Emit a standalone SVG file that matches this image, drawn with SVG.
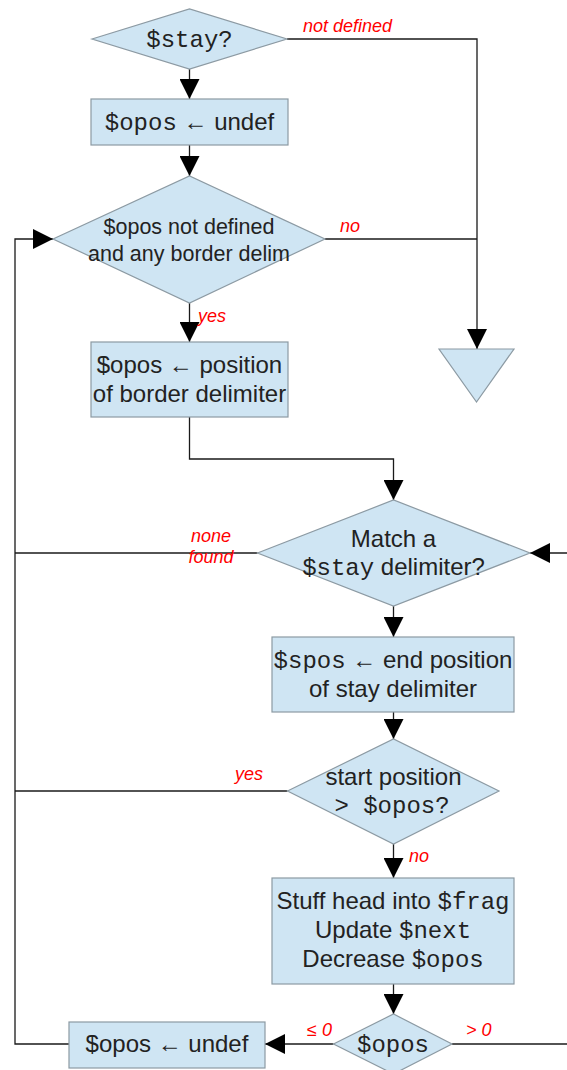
<svg xmlns="http://www.w3.org/2000/svg" width="567" height="1070" viewBox="0 0 567 1070">
<style>
.shape{fill:#cfe5f3;stroke:#8c9aa3;stroke-width:1.2}
.conn{fill:none;stroke:#1a1a1a;stroke-width:1.3}
.t{font-family:"Liberation Sans",Arial,sans-serif;font-size:24px;fill:#222;text-anchor:middle}
.t2{font-size:21.5px}
.m{font-family:"Liberation Mono","Courier New",monospace}
.lbl{font-family:"Liberation Sans",Arial,sans-serif;font-size:18px;font-style:italic;fill:#ff0000}
</style>
<defs>
<marker id="ah" viewBox="0 0 20 20" refX="20" refY="10" markerWidth="20" markerHeight="20" markerUnits="userSpaceOnUse" orient="auto">
<path d="M0,0 L20,10 L0,20 z" fill="#000"/>
</marker>
</defs>
<g id="connectors">
<path class="conn" d="M189.5,69 V99" marker-end="url(#ah)"/>
<path class="conn" d="M189.5,145 V176" marker-end="url(#ah)"/>
<path class="conn" d="M287,39 H477 V349" marker-end="url(#ah)"/>
<path class="conn" d="M325,239 H477"/>
<path class="conn" d="M189.5,303 V342" marker-end="url(#ah)"/>
<path class="conn" d="M189.5,417 V459 H393.5 V500" marker-end="url(#ah)"/>
<path class="conn" d="M567,553 H530" marker-end="url(#ah)"/>
<path class="conn" d="M257.5,553 H15"/>
<path class="conn" d="M393.5,606 V637" marker-end="url(#ah)"/>
<path class="conn" d="M393.5,712 V739" marker-end="url(#ah)"/>
<path class="conn" d="M287.5,791 H15"/>
<path class="conn" d="M393.5,844 V878" marker-end="url(#ah)"/>
<path class="conn" d="M393.5,984 V1014" marker-end="url(#ah)"/>
<path class="conn" d="M333.5,1044 H265" marker-end="url(#ah)"/>
<path class="conn" d="M452,1044 H567"/>
<path class="conn" d="M69,1044 H15 V239 H53" marker-end="url(#ah)"/>
<text class="lbl" x="303" y="32">not defined</text>
<text class="lbl" x="340" y="232">no</text>
<text class="lbl" x="198" y="322">yes</text>
<text class="lbl" x="211" y="542" text-anchor="middle">none</text>
<text class="lbl" x="211" y="563" text-anchor="middle">found</text>
<text class="lbl" x="235" y="780">yes</text>
<text class="lbl" x="409" y="862">no</text>
<text class="lbl" x="307" y="1036">≤ 0</text>
<text class="lbl" x="466" y="1036">&gt; 0</text>
</g>
<g id="stay-check">
<polygon class="shape" points="92,39 189.5,9 287,39 189.5,69"/>
<text class="t m" x="189.5" y="47">$stay?</text>
</g>
<g id="opos-undef-1">
<rect class="shape" x="91" y="99" width="197" height="46"/>
<text class="t" x="189.5" y="130"><tspan class="m">$opos</tspan> ← undef</text>
</g>
<g id="border-check">
<polygon class="shape" points="53,239 189.5,176 325,239 189.5,303"/>
<text class="t t2" x="189" y="234">$opos not defined</text>
<text class="t t2" x="189" y="261">and any border delim</text>
</g>
<g id="end-node">
<polygon class="shape" points="439,349 514,349 476.5,402"/>
</g>
<g id="opos-border">
<rect class="shape" x="91" y="342" width="197" height="75"/>
<text class="t" x="189.5" y="373">$opos ← position</text>
<text class="t" x="189.5" y="402">of border delimiter</text>
</g>
<g id="match-stay">
<polygon class="shape" points="257.5,553 393.5,500 530,553 393.5,606"/>
<text class="t" x="393.5" y="547">Match a</text>
<text class="t" x="393.5" y="575"><tspan class="m">$stay</tspan> delimiter?</text>
</g>
<g id="spos-end">
<rect class="shape" x="272" y="637" width="242" height="75"/>
<text class="t" x="393" y="668"><tspan class="m">$spos</tspan> ← end position</text>
<text class="t" x="393" y="697">of stay delimiter</text>
</g>
<g id="start-check">
<polygon class="shape" points="287.5,791 393.5,739 499,791 393.5,844"/>
<text class="t" x="393.5" y="785">start position</text>
<text class="t m" x="392" y="813">&gt; $opos?</text>
</g>
<g id="stuff-head">
<rect class="shape" x="272" y="878" width="242" height="106"/>
<text class="t" x="393" y="909">Stuff head into <tspan class="m">$frag</tspan></text>
<text class="t" x="393" y="938">Update <tspan class="m">$next</tspan></text>
<text class="t" x="393" y="967">Decrease <tspan class="m">$opos</tspan></text>
</g>
<g id="opos-sign">
<polygon class="shape" points="333.5,1044 393.5,1014 452,1044 393.5,1074"/>
<text class="t m" x="393" y="1052">$opos</text>
</g>
<g id="opos-undef-2">
<rect class="shape" x="69" y="1022" width="196" height="46"/>
<text class="t" x="167" y="1052">$opos ← undef</text>
</g>
</svg>
